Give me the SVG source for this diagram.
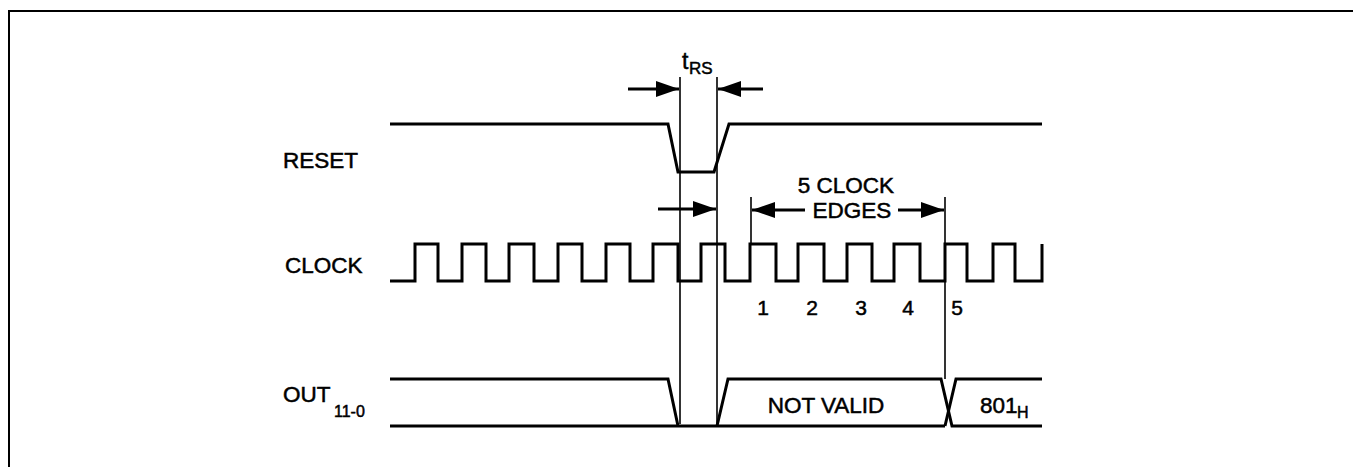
<svg xmlns="http://www.w3.org/2000/svg" width="1353" height="467" viewBox="0 0 1353 467">
<style>
.sig{fill:none;stroke:#000;stroke-width:3;stroke-linejoin:miter}
.ref{fill:none;stroke:#000;stroke-width:1.6}
.arr{fill:none;stroke:#000;stroke-width:3}
.frame{fill:none;stroke:#000;stroke-width:2}
text{font-family:"Liberation Sans",Arial,sans-serif;fill:#000;stroke:#000;stroke-width:0.5}
.lbl{font-size:22.5px}
.num{font-size:21px}
.sub{font-size:16px}
</style>
<defs>
<marker id="ah" viewBox="0 0 23 16" refX="23" refY="8" markerWidth="23" markerHeight="16" markerUnits="userSpaceOnUse" orient="auto">
<path d="M0,0 L23,8 L0,16 Z" fill="#000"/>
</marker>
</defs>
<rect width="1353" height="467" fill="#fff"/>
<g id="frame">
<path class="frame" d="M9,467 V11 H1353"/>
</g>
<g id="labels">
<text class="lbl" x="283" y="168">RESET</text>
<text class="lbl" x="285" y="273">CLOCK</text>
<text class="lbl" x="283" y="402">OUT<tspan class="sub" x="334" y="417">11-0</tspan></text>
</g>
<g id="reset">
<path class="sig" d="M390,124 H668 L678,172 H714 L729,124 H1042"/>
</g>
<g id="clock">
<path class="sig" d="M390,281 H415 V244 H438 V281 H462 V244 H486 V281 H509 V244 H534 V281 H558 V244 H582 V281 H606 V244 H630 V281 H653 V244 H678 V281 H701 V244 H725 V281 H750 V244 H776 V281 H798 V244 H824 V281 H847 V244 H872 V281 H894 V244 H920 V281 H945 V244 H967 V281 H993 V244 H1015 V281 H1042 V244"/>
<text class="num" x="763" y="315" text-anchor="middle">1</text>
<text class="num" x="812" y="315" text-anchor="middle">2</text>
<text class="num" x="861" y="315" text-anchor="middle">3</text>
<text class="num" x="908" y="315" text-anchor="middle">4</text>
<text class="num" x="957" y="315" text-anchor="middle">5</text>
</g>
<g id="out">
<path class="sig" d="M390,379 H668 L678,426"/>
<path class="sig" d="M390,426 H945"/>
<path class="sig" d="M717,426 L728,379 H941 L952,426 H1042"/>
<path class="sig" d="M945,426 L956,379 H1042"/>
<text class="lbl" x="826" y="413" text-anchor="middle">NOT VALID</text>
<text class="lbl" x="980" y="413">801<tspan class="sub" x="1017" y="418">H</tspan></text>
</g>
<g id="connectors">
<path class="ref" d="M680,77 V424"/>
<path class="ref" d="M717,77 V424"/>
<path class="ref" d="M751,197 V244"/>
<path class="ref" d="M945,197 V379"/>
<path class="arr" d="M628,89 H679" marker-end="url(#ah)"/>
<path class="arr" d="M763,89 H718" marker-end="url(#ah)"/>
<path class="arr" d="M658,209 H716" marker-end="url(#ah)"/>
<path class="arr" d="M805,210 H752" marker-end="url(#ah)"/>
<path class="arr" d="M898,210 H944" marker-end="url(#ah)"/>
</g>
<g id="annotations">
<text x="682" y="69" style="font-size:23px">t</text>
<text x="689" y="74" style="font-size:17px">RS</text>
<text class="lbl" x="846" y="193" text-anchor="middle">5 CLOCK</text>
<text class="lbl" x="852" y="218" text-anchor="middle">EDGES</text>
</g>
</svg>
